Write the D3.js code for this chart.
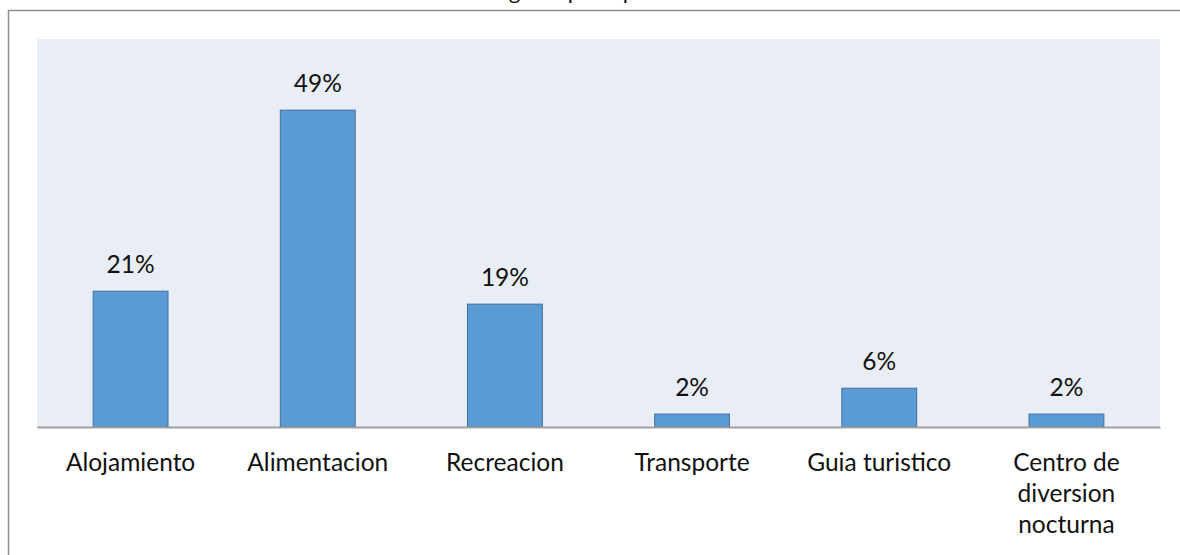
<!DOCTYPE html>
<html>
<head>
<meta charset="utf-8">
<script src="https://cdn.jsdelivr.net/npm/d3@7"></script>
<style>
    body { margin: 0; background: #fff; }
    text { font-family: Lato, "Open Sans", sans-serif; fill: #111; }
</style>
</head>
<body>
<script>
var title = 'Gráfico N° 10: Rubro de gasto principal de los turistas en la ciudad';
var categories = ['Alojamiento', 'Alimentacion', 'Recreacion', 'Transporte', 'Guia turistico', 'Centro de diversion nocturna'];
var values = [0.21, 0.49, 0.19, 0.02, 0.06, 0.02];
var yDomain = [0, 0.6];

var width = 1180,
    height = 555,
    plot = { left: 37, right: 1160, top: 39, bottom: 427 },
    fontSize = 24.5;

var svg = d3.select('body').append('svg')
    .attr('width', width)
    .attr('height', height);

// outer chart frame (runs off the right and bottom edges)
svg.append('rect')
    .attr('x', 8.5)
    .attr('y', 10.5)
    .attr('width', 1300)
    .attr('height', 700)
    .attr('fill', '#fff')
    .attr('stroke', '#8f8f8f')
    .attr('stroke-width', 1.5);

// title, mostly clipped off the top like in the source
svg.append('text')
    .attr('x', 592)
    .attr('y', -0.5)
    .attr('text-anchor', 'middle')
    .attr('font-size', 19)
    .attr('textLength', 650)
    .attr('lengthAdjust', 'spacingAndGlyphs')
    .text(title);

var x = d3.scaleBand()
    .domain(categories)
    .range([plot.left, plot.right])
    .paddingInner(0.6)
    .paddingOuter(0.3);

var y = d3.scaleLinear()
    .domain(yDomain)
    .range([plot.bottom, plot.top]);

svg.append('rect')
    .attr('class', 'plot-bg')
    .attr('x', plot.left)
    .attr('y', plot.top)
    .attr('width', plot.right - plot.left)
    .attr('height', plot.bottom - plot.top)
    .attr('fill', '#e9edf5');

var data = categories.map((c, i) => ({ name: c, value: values[i] }));

svg.append('g').selectAll('rect')
    .data(data)
    .enter().append('rect')
    .attr('x', d => x(d.name))
    .attr('y', d => y(d.value))
    .attr('width', x.bandwidth())
    .attr('height', d => y(0) - y(d.value))
    .attr('fill', '#5b9bd5')
    .attr('stroke', '#41719c')
    .attr('stroke-width', 1);

// value labels
svg.append('g').selectAll('text')
    .data(data)
    .enter().append('text')
    .attr('x', d => x(d.name) + x.bandwidth() / 2)
    .attr('y', d => y(d.value) - 18)
    .attr('text-anchor', 'middle')
    .attr('font-size', fontSize)
    .text(d => d3.format('.0%')(d.value));

// category axis
var axis = d3.axisBottom(x).tickSize(0).tickPadding(0);
var axisG = svg.append('g')
    .attr('transform', 'translate(0,' + plot.bottom + ')')
    .call(axis);
axisG.select('.domain').attr('stroke', '#a0a0a0').attr('stroke-width', 2);
axisG.selectAll('.tick text')
    .attr('font-size', fontSize)
    .attr('y', 44)
    .attr('dy', 0)
    .call(wrap, x.step() * 0.9);

function wrap(selection, maxWidth) {
    selection.each(function () {
        var text = d3.select(this),
            words = text.text().split(/\s+/),
            lines = [],
            line = [];
        text.text(null);
        var probe = text.append('tspan');
        words.forEach(function (w) {
            line.push(w);
            probe.text(line.join(' '));
            if (probe.node().getComputedTextLength() > maxWidth && line.length > 1) {
                line.pop();
                lines.push(line.join(' '));
                line = [w];
            }
        });
        lines.push(line.join(' '));
        probe.remove();
        lines.forEach(function (l, i) {
            text.append('tspan')
                .attr('x', 0)
                .attr('dy', i === 0 ? 0 : 31)
                .text(l);
        });
    });
}
</script>
</body>
</html>
